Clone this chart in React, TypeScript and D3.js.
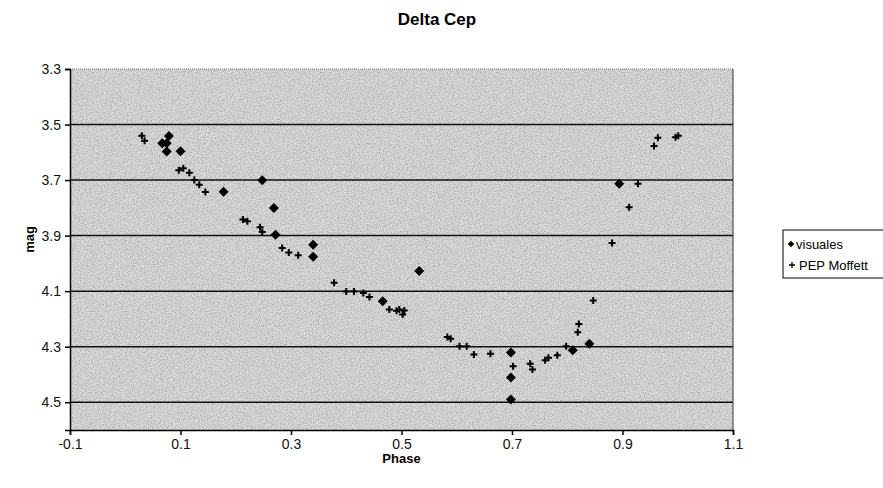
import { useEffect, useRef } from 'react';
import * as d3 from 'd3';

// visual estimates (diamonds)
const visPhase = [0.079, 0.067, 0.075, 0.075, 0.1, 0.178, 0.248, 0.269, 0.272, 0.34, 0.34, 0.466, 0.532, 0.698, 0.698, 0.698, 0.81, 0.84, 0.894];
const visMag = [3.541, 3.567, 3.567, 3.597, 3.596, 3.742, 3.701, 3.801, 3.897, 3.933, 3.976, 4.136, 4.027, 4.321, 4.411, 4.49, 4.313, 4.289, 3.713];

// photoelectric photometry (plus signs)
const pepPhase = [0.03, 0.035, 0.097, 0.105, 0.116, 0.125, 0.134, 0.145, 0.213, 0.221, 0.244, 0.248, 0.284, 0.296, 0.313, 0.378, 0.4, 0.414, 0.431, 0.442, 0.478, 0.491, 0.496, 0.505, 0.502, 0.583, 0.589, 0.605, 0.618, 0.631, 0.661, 0.702, 0.733, 0.737, 0.76, 0.766, 0.782, 0.798, 0.819, 0.821, 0.847, 0.881, 0.912, 0.928, 0.957, 0.964, 0.996, 1.001];
const pepMag = [3.54, 3.558, 3.665, 3.657, 3.674, 3.7, 3.717, 3.743, 3.842, 3.848, 3.87, 3.887, 3.945, 3.961, 3.971, 4.07, 4.101, 4.101, 4.107, 4.121, 4.166, 4.171, 4.166, 4.17, 4.184, 4.265, 4.271, 4.298, 4.298, 4.328, 4.325, 4.37, 4.361, 4.382, 4.349, 4.34, 4.331, 4.298, 4.248, 4.218, 4.134, 3.927, 3.798, 3.713, 3.577, 3.548, 3.546, 3.54];

const xTicks = [-0.1, 0.1, 0.3, 0.5, 0.7, 0.9, 1.1];
const yTicks = [3.3, 3.5, 3.7, 3.9, 4.1, 4.3, 4.5];
const gridMags = [3.5, 3.7, 3.9, 4.1, 4.3, 4.5];

const width = 883;
const height = 488;
const margin = { top: 69, right: 150, bottom: 58, left: 70 };

export default function App() {
  const svgRef = useRef<SVGSVGElement>(null);

  useEffect(() => {
    if (!svgRef.current) return;
    const svg = d3.select(svgRef.current);
    svg.selectAll('*').remove();

    const innerW = width - margin.left - margin.right;
    const innerH = height - margin.top - margin.bottom;

    const x = d3.scaleLinear().domain([-0.1, 1.1]).range([0, innerW]);
    const y = d3.scaleLinear().domain([3.3, 4.6]).range([0, innerH]);

    // grainy grey like the scanned original
    const defs = svg.append('defs');
    const f = defs.append('filter').attr('id', 'grain').attr('x', 0).attr('y', 0).attr('width', 1).attr('height', 1);
    f.append('feTurbulence').attr('type', 'fractalNoise').attr('baseFrequency', 0.85).attr('numOctaves', 2).attr('seed', 3).attr('result', 'n');
    f.append('feColorMatrix').attr('in', 'n').attr('type', 'matrix')
      .attr('values', '0 0 0 0 0  0 0 0 0 0  0 0 0 0 0  0 0 0 -1.6 1.0')
      .attr('result', 'a');
    f.append('feComposite').attr('in', 'a').attr('in2', 'SourceGraphic').attr('operator', 'in');

    const g = svg.append('g').attr('transform', `translate(${margin.left},${margin.top})`);

    g.append('rect').attr('width', innerW).attr('height', innerH).attr('fill', '#dcdcdc');
    g.append('rect').attr('width', innerW).attr('height', innerH).attr('fill', '#dcdcdc')
      .attr('filter', 'url(#grain)').attr('opacity', 0.3);

    // horizontal gridlines
    g.selectAll('.grid')
      .data(gridMags)
      .enter()
      .append('line')
      .attr('x1', 0)
      .attr('x2', innerW)
      .attr('y1', d => y(d))
      .attr('y2', d => y(d))
      .attr('stroke', '#111')
      .attr('stroke-width', 1.5);

    // frame
    g.append('line').attr('x1', 0).attr('x2', innerW).attr('y1', 0).attr('y2', 0)
      .attr('stroke', '#777').attr('stroke-width', 1).attr('stroke-dasharray', '1,1');
    g.append('line').attr('x1', innerW).attr('x2', innerW).attr('y1', 0).attr('y2', innerH)
      .attr('stroke', '#333').attr('stroke-width', 1);

    const font = 'Arial, "Liberation Sans", sans-serif';
    const fmt = (d: d3.NumberValue) => (+d).toFixed(1);

    const xAxis = g.append('g')
      .attr('transform', `translate(0,${innerH})`)
      .call(d3.axisBottom(x).tickValues(xTicks).tickSize(5).tickPadding(4).tickFormat(fmt));
    xAxis.select('.domain').attr('stroke', '#000').attr('stroke-width', 1.5);
    xAxis.selectAll('line').attr('stroke', '#000').attr('stroke-width', 1.5);
    xAxis.selectAll('text').attr('fill', '#111').style('font-size', '14px').style('font-family', font);

    const yAxis = g.append('g')
      .call(d3.axisLeft(y).tickValues(yTicks).tickSize(5).tickPadding(4).tickFormat(fmt));
    yAxis.select('.domain').attr('stroke', '#000').attr('stroke-width', 1.5);
    yAxis.selectAll('line').attr('stroke', '#000').attr('stroke-width', 1.5);
    yAxis.selectAll('text').attr('fill', '#111').style('font-size', '14px').style('font-family', font);

    // PEP Moffett plus markers
    const ps = 3.5;
    g.selectAll('.pep')
      .data(pepPhase.map((p, i) => [p, pepMag[i]]))
      .enter()
      .append('path')
      .attr('d', d => {
        const cx = x(d[0]);
        const cy = y(d[1]);
        return `M${cx - ps},${cy}H${cx + ps}M${cx},${cy - ps}V${cy + ps}`;
      })
      .attr('stroke', '#000')
      .attr('stroke-width', 2)
      .attr('fill', 'none');

    // visual diamonds
    const diamond = d3.symbol(d3.symbolSquare, 50)();
    g.selectAll('.vis')
      .data(visPhase.map((p, i) => [p, visMag[i]]))
      .enter()
      .append('path')
      .attr('d', diamond)
      .attr('transform', d => `translate(${x(d[0])},${y(d[1])}) rotate(45)`)
      .attr('fill', '#000');

    // titles
    svg.append('text')
      .attr('x', 437).attr('y', 25)
      .attr('text-anchor', 'middle')
      .style('font-family', font).style('font-weight', 'bold').style('font-size', '17px')
      .text('Delta Cep');

    svg.append('text')
      .attr('x', margin.left + x(0.5)).attr('y', 463)
      .attr('text-anchor', 'middle')
      .style('font-family', font).style('font-weight', 'bold').style('font-size', '13px')
      .text('Phase');

    svg.append('text')
      .attr('transform', `translate(34,${margin.top + innerH / 2 - 10}) rotate(-90)`)
      .attr('text-anchor', 'middle')
      .style('font-family', font).style('font-weight', 'bold').style('font-size', '13px')
      .text('mag');

    // legend
    const lg = svg.append('g').attr('transform', 'translate(783,230)');
    lg.append('rect').attr('width', 110).attr('height', 48)
      .attr('fill', '#fff').attr('stroke', '#000').attr('stroke-width', 1);
    lg.append('path').attr('d', d3.symbol(d3.symbolSquare, 22)())
      .attr('transform', 'translate(8,14) rotate(45)').attr('fill', '#000');
    lg.append('text').attr('x', 13).attr('y', 18.5)
      .style('font-family', font).style('font-size', '13px').text('visuales');
    lg.append('path').attr('d', 'M6,35H12M9,32V38').attr('stroke', '#000').attr('stroke-width', 1.3);
    lg.append('text').attr('x', 16).attr('y', 39.5)
      .style('font-family', font).style('font-size', '13px').text('PEP Moffett');
  }, []);

  return (
    <svg
      ref={svgRef}
      width={width}
      height={height}
      style={{ position: 'absolute', left: 0, top: 0, background: '#fff' }}
    />
  );
}
